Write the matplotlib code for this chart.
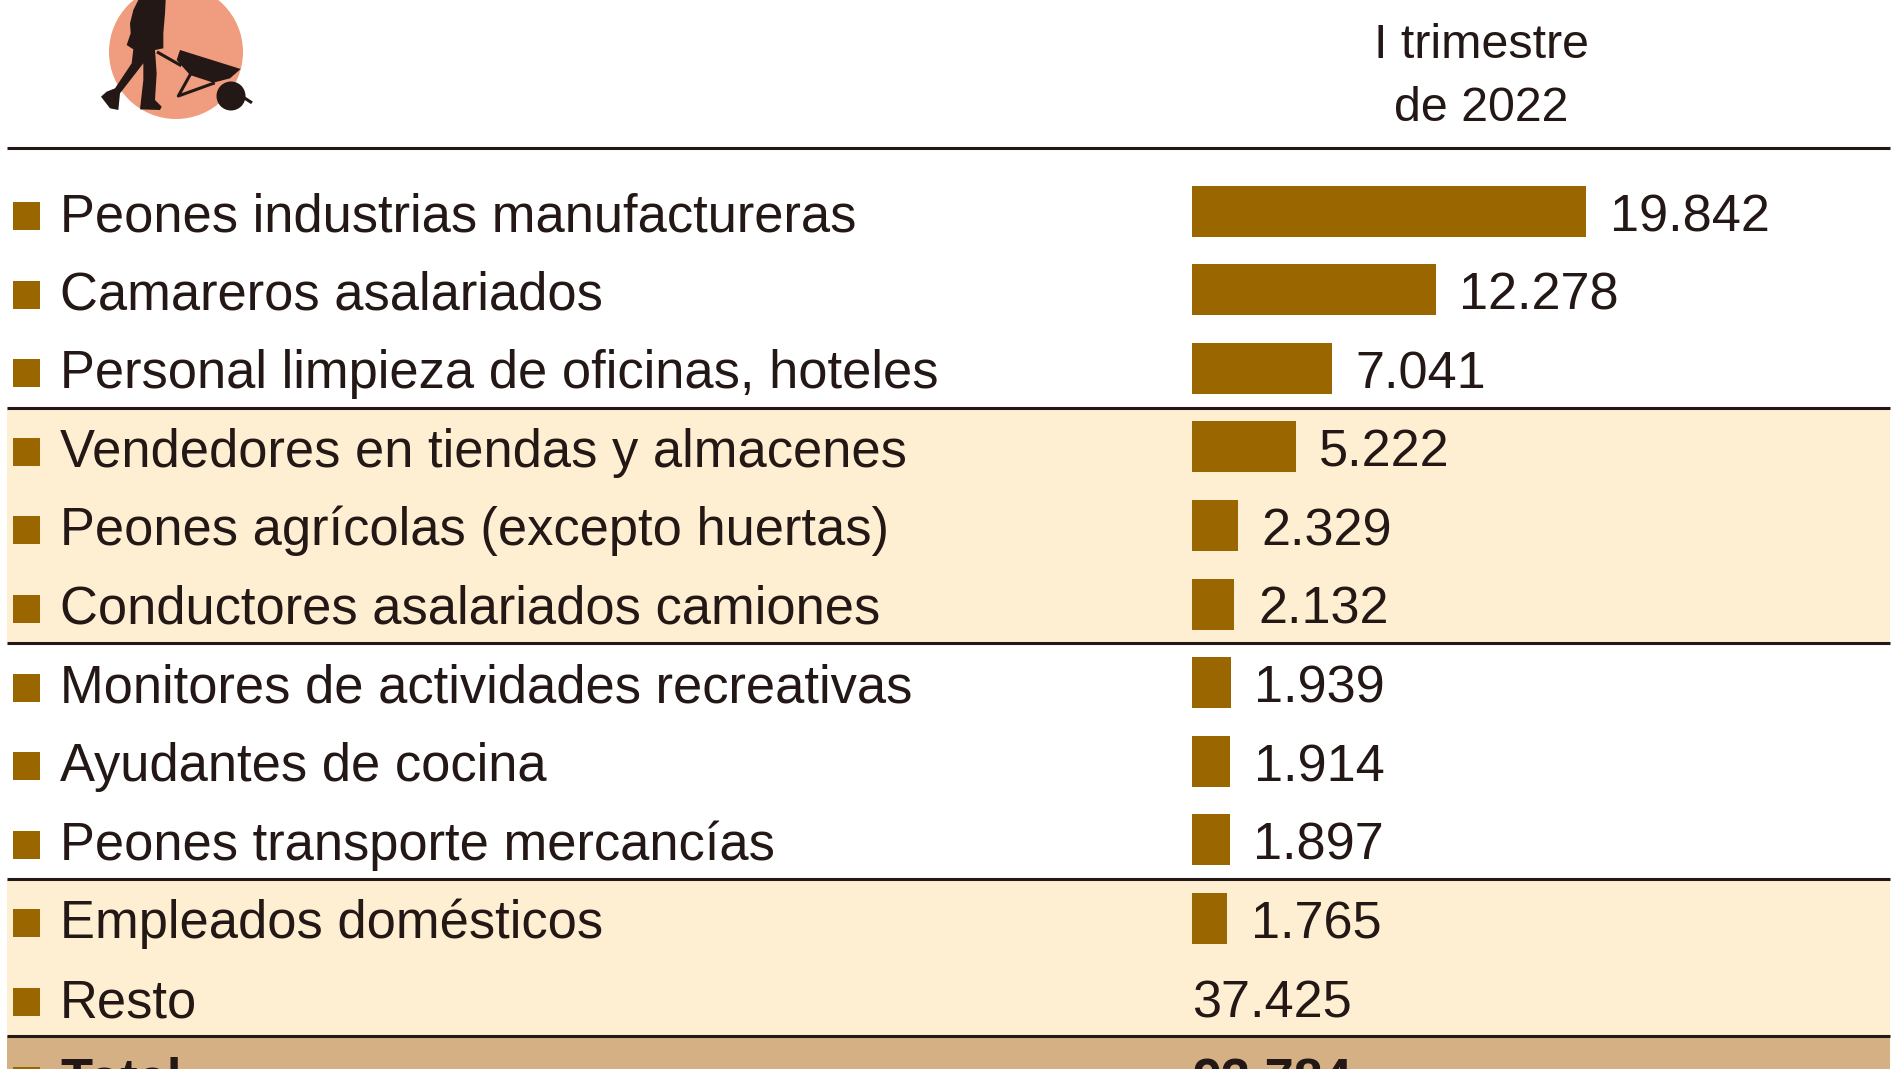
import matplotlib
matplotlib.use('Agg')
import matplotlib.pyplot as plt
from matplotlib.patches import Circle, Polygon, Rectangle

# Data
categories = ['Peones industrias manufactureras', 'Camareros asalariados',
              'Personal limpieza de oficinas, hoteles', 'Vendedores en tiendas y almacenes',
              'Peones agrícolas (excepto huertas)', 'Conductores asalariados camiones',
              'Monitores de actividades recreativas', 'Ayudantes de cocina',
              'Peones transporte mercancías', 'Empleados domésticos']
values = [19842, 12278, 7041, 5222, 2329, 2132, 1939, 1914, 1897, 1765]
value_labels = ['19.842', '12.278', '7.041', '5.222', '2.329', '2.132', '1.939', '1.914', '1.897', '1.765']
rest_label = 'Resto'
rest_value = '37.425'
total_label = 'Total'
total_value = '93.784'
header_lines = ['I trimestre', 'de 2022']

BAR = '#996600'
LIGHT = '#FEEFD3'
TOTAL = '#D4B084'
INK = '#231815'
SALMON = '#F09C7E'

plt.rcParams['font.family'] = ['Liberation Sans', 'DejaVu Sans']
FS = 37.8
FS_VAL = 37.6
FS_HEAD = 34.8

fig = plt.figure(figsize=(19, 10.69), dpi=100)

# layout axes in pixels
ax = fig.add_axes([0, 0, 1, 1])
ax.set_xlim(0, 1900)
ax.set_ylim(1069, 0)
ax.axis('off')

ROW0 = 211
STEP = 78.6

def edge(i):
    return ROW0 + STEP * (i - 0.5)

# bands
ax.add_patch(Rectangle((7, edge(3)), 1883, edge(6) - edge(3), color=LIGHT, lw=0))
ax.add_patch(Rectangle((7, edge(9)), 1883, edge(11) - edge(9), color=LIGHT, lw=0))
ax.add_patch(Rectangle((7, edge(11)), 1883, 1069 - edge(11), color=TOTAL, lw=0))

# rules
for y in [148, edge(3), edge(6), edge(9), edge(11)]:
    ax.plot([7, 1890], [y, y], color=INK, lw=2.2, solid_capstyle='butt')

# row labels and squares
names = categories + [rest_label, total_label]
for i, name in enumerate(names):
    base = ROW0 + 20 + STEP * i
    ax.add_patch(Rectangle((13, base - 29), 27, 28, color=BAR, lw=0))
    ax.text(60, base, name, fontsize=FS, color=INK, va='baseline', ha='left',
            fontweight='bold' if name == total_label else 'normal')

# values with no bar
ax.text(1192, ROW0 + 20 + STEP * 10, rest_value, fontsize=FS_VAL, color=INK, va='baseline')
ax.text(1192, ROW0 + 20 + STEP * 11, total_value, fontsize=FS_VAL, color=INK, va='baseline', fontweight='bold')

# header
ax.text(1481, 58, header_lines[0], fontsize=FS_HEAD, color=INK, ha='center', va='baseline')
ax.text(1481, 121, header_lines[1], fontsize=FS_HEAD, color=INK, ha='center', va='baseline')

# wheelbarrow icon, from the zoomed crop (3x)
def z(points):
    return [(x / 3, y / 3) for x, y in points]

ax.add_patch(Circle((176, 52), 67, color=SALMON, lw=0))
person = [(415, 0), (497, 0), (495, 40), (490, 100), (490, 145), (465, 150), (470, 220), (465, 300),
          (485, 320), (480, 330), (420, 328), (430, 240), (430, 190), (360, 280), (355, 330), (330, 325),
          (303, 290), (320, 275), (345, 265), (395, 190), (400, 148), (380, 135), (392, 100), (390, 70), (400, 30)]
ax.add_patch(Polygon(z(person), closed=True, color=INK, lw=0))
tray = [(540, 150), (722, 207), (690, 235), (640, 248), (570, 225), (530, 180)]
ax.add_patch(Polygon(z(tray), closed=True, color=INK, lw=0))
for seg in ([(475, 158), (540, 195)], [(570, 225), (535, 288), (640, 250)], [(735, 295), (752, 306)]):
    pts = z(seg)
    ax.plot([p[0] for p in pts], [p[1] for p in pts], color=INK, lw=2.2)
ax.add_patch(Circle((231, 96), 14.5, color=INK, lw=0))

# bars on their own value scale, zero at x=1192 and 19842 at x=1586
px_per_unit = 394 / 19842
bar_ax = fig.add_axes([0, 0, 1, 1])
bar_ax.patch.set_alpha(0)
bar_ax.axis('off')
bar_ax.set_xlim(-1192 / px_per_unit, (1900 - 1192) / px_per_unit)
bar_ax.set_ylim((1069 - ROW0) / STEP, -ROW0 / STEP)
rows = list(range(len(values)))
bar_ax.barh(rows, values, height=51 / STEP, color=BAR)
for r, v, lab in zip(rows, values, value_labels):
    bar_ax.annotate(lab, (v, r + 20 / STEP), xytext=(17, 0), textcoords='offset points',
                    fontsize=FS_VAL, color=INK, va='baseline', ha='left')

fig.savefig('out.png', dpi=100)
